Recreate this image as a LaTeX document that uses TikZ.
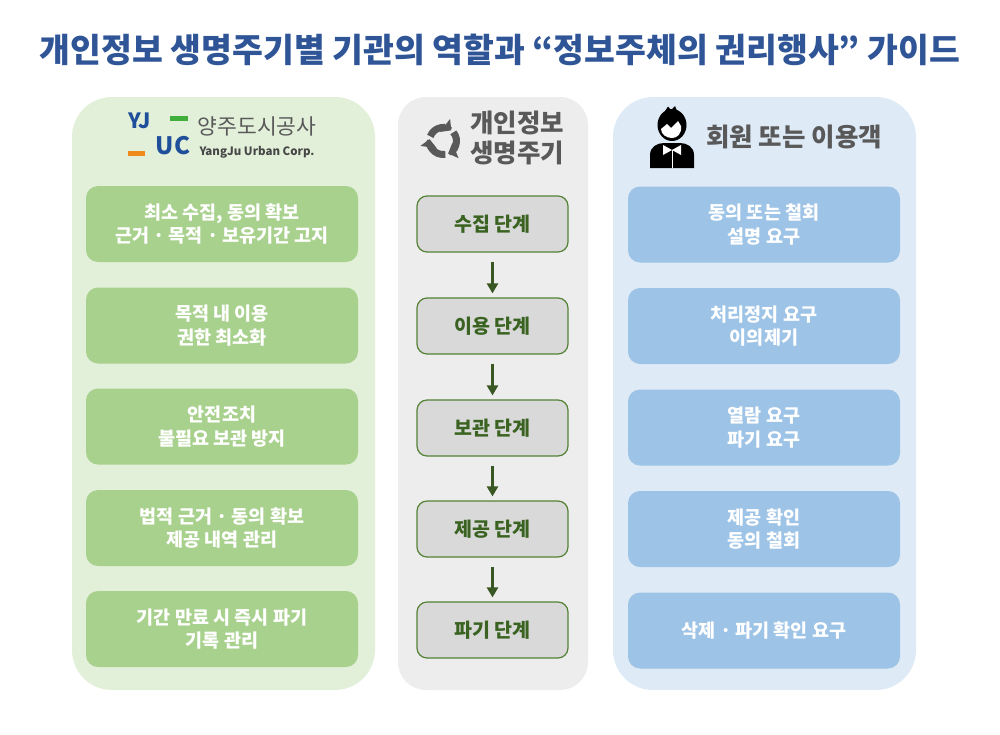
\documentclass[tikz,border=0pt]{standalone}
\usepackage{fontspec}
\setmainfont{Noto Sans CJK KR}
\newfontfamily\titlefont{Noto Sans CJK KR Black}
\usetikzlibrary{arrows.meta}
\definecolor{titleblue}{HTML}{2F5597}
\definecolor{lbg}{HTML}{E2F0D9}
\definecolor{lboxc}{HTML}{A9D18E}
\definecolor{mbg}{HTML}{EDEDED}
\definecolor{mboxc}{HTML}{D9D9D9}
\definecolor{mborder}{HTML}{548235}
\definecolor{mtext}{HTML}{3A6321}
\definecolor{rbg}{HTML}{DEEBF7}
\definecolor{rboxc}{HTML}{9DC3E6}
\definecolor{arrowc}{HTML}{385723}
\definecolor{headgray}{HTML}{595959}
\definecolor{logoblue}{HTML}{1F4E9A}
\definecolor{logogreen}{HTML}{3FAE3A}
\definecolor{logoorange}{HTML}{F08A1C}
\tikzset{
  panel/.style={rounded corners=40pt, inner sep=0pt},
  lbox/.style={rounded corners=12pt, fill=lboxc, minimum width=272pt, minimum height=76pt,
    text=white, align=center, font=\bfseries\fontsize{18.5}{23.5}\selectfont},
  rbox/.style={lbox, fill=rboxc},
  mbox/.style={rounded corners=10pt, fill=mboxc, draw=mborder, line width=1.2pt,
    minimum width=151pt, minimum height=56pt, text=mtext, font=\bfseries\fontsize{19.5}{22}\selectfont},
  flow/.style={draw=arrowc, line width=3pt, -{Triangle[width=11pt,length=10pt]},
    shorten <=9pt, shorten >=4pt},
  header/.style={text=headgray, align=center, font=\bfseries\fontsize{25.5}{30}\selectfont},
  recyc/.style={draw=headgray, line width=7pt, -{Triangle[width=16pt,length=8pt]}}
}
\begin{document}
\begin{tikzpicture}[x=1pt,y=-1pt]
\useasboundingbox[fill=white] (0,0) rectangle (1000,734);

% title
\node[text=titleblue, font=\titlefont\fontsize{33.5}{36}\selectfont] (title) at (500,50)
  {개인정보 생명주기별 기관의 역할과 “정보주체의 권리행사” 가이드};

% panels
\node[panel, fill=lbg, minimum width=303pt, minimum height=593pt] (lp) at (223.5,393.5) {};
\node[panel, fill=mbg, rounded corners=28pt, minimum width=190pt, minimum height=593pt] (mp) at (493,393.5) {};
\node[panel, fill=rbg, minimum width=303pt, minimum height=593pt] (rp) at (764.5,393.5) {};

% left header: logo
\node[text=logoblue, font=\titlefont\fontsize{21}{21}\selectfont, inner sep=0pt] (yj) at (139.5,121) {YJ};
\fill[logogreen] (170,115.5) rectangle (188,120.5);
\fill[logoorange] (128,151) rectangle (145,156);
\node[text=logoblue, font=\titlefont\fontsize{24}{24}\selectfont, inner sep=0pt] (uc) at (173,146) {UC};
\node[text=headgray, font=\fontsize{21.5}{21.5}\selectfont, inner sep=0pt] (yjname) at (257,126) {양주도시공사};
\node[text=headgray!80!black, font=\bfseries\fontsize{11.5}{11.5}\selectfont, inner sep=0pt] (yjeng) at (257,152) {YangJu Urban Corp.};

% middle header
\foreach \a in {0,120,240}
  \draw[recyc] ([shift={(\a+200:13.5)}]443,141) arc[start angle=\a+200, end angle=\a+308, radius=13.5];
\node[header] (mhead) at (517,138) {개인정보\\생명주기};

% right header: person icon
\fill[black] (650,168) -- (650,155) .. controls (650,147) and (657,143) .. (664,143)
  -- (680,143) .. controls (687,143) and (694,147) .. (694,155) -- (694,168) -- cycle;
\fill[white] (663,145) -- (672,150) -- (681,145) -- (681,155) -- (672,150) -- (663,155) -- cycle;
\draw[white, line width=0.8pt] (672,150) -- (672,168);
\fill[black] (672,125) ellipse [x radius=14.5, y radius=16];
\fill[black] (665,111) -- (668,106.5) -- (671,110) -- (675,106) -- (677,111) -- cycle;
\fill[white] (661,129) -- (667,124) -- (671,128) -- (678,121) -- (681,126)
  .. controls (682,134) and (677,138) .. (672,138) .. controls (666,138) and (661,134) .. (661,129) -- cycle;
\node[header] (rhead) at (794,137) {회원 또는 이용객};

% left boxes
\node[lbox] (l1) at (222,224) {최소 수집, 동의 확보\\근거 · 목적 · 보유기간 고지};
\node[lbox] (l2) at (222,325.5) {목적 내 이용\\권한 최소화};
\node[lbox] (l3) at (222,426.5) {안전조치\\불필요 보관 방지};
\node[lbox] (l4) at (222,528) {법적 근거 · 동의 확보\\제공 내역 관리};
\node[lbox] (l5) at (222,629) {기간 만료 시 즉시 파기\\기록 관리};

% middle boxes
\node[mbox] (m1) at (492.5,224) {수집 단계};
\node[mbox] (m2) at (492.5,326) {이용 단계};
\node[mbox] (m3) at (492.5,428) {보관 단계};
\node[mbox] (m4) at (492.5,529) {제공 단계};
\node[mbox] (m5) at (492.5,630) {파기 단계};
\draw[flow] (m1) -- (m2);
\draw[flow] (m2) -- (m3);
\draw[flow] (m3) -- (m4);
\draw[flow] (m4) -- (m5);

% right boxes
\node[rbox] (r1) at (764,224.5) {동의 또는 철회\\설명 요구};
\node[rbox] (r2) at (764,326) {처리정지 요구\\이의제기};
\node[rbox] (r3) at (764,427.5) {열람 요구\\파기 요구};
\node[rbox] (r4) at (764,529) {제공 확인\\동의 철회};
\node[rbox] (r5) at (764,630.5) {삭제 · 파기 확인 요구};
\end{tikzpicture}
\end{document}
